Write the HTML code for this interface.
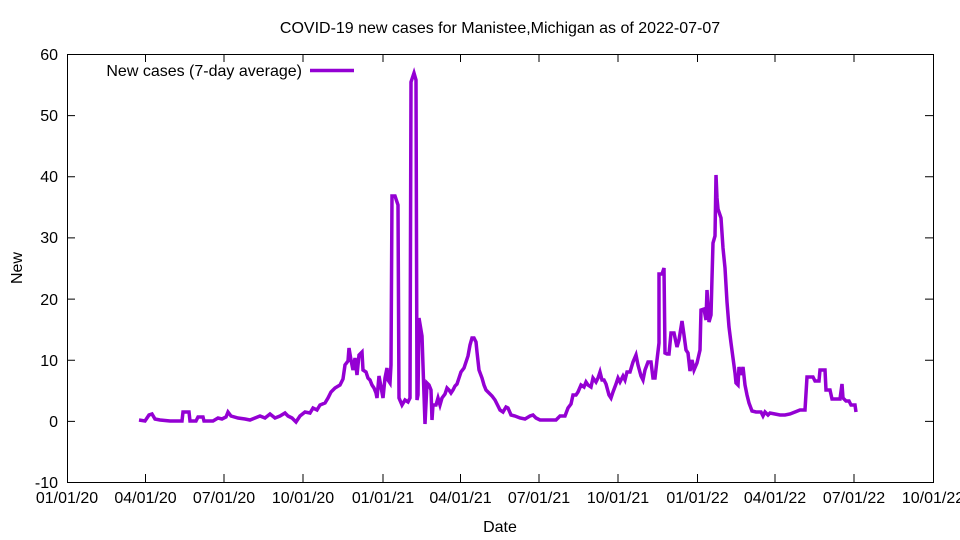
<!DOCTYPE html>
<html><head><meta charset="utf-8"><style>body{margin:0;background:#fff}svg{display:block}text{font-family:"Liberation Sans",sans-serif;font-size:16px;fill:#000}</style></head>
<body>
<svg width="960" height="540" viewBox="0 0 960 540">
<rect x="67.5" y="54.5" width="866" height="428" fill="none" stroke="#000" stroke-width="1"/>
<g stroke="#000" stroke-width="1">
<path d="M67 54.5h8M933 54.5h-8M67 115.6h8M933 115.6h-8M67 176.8h8M933 176.8h-8M67 237.9h8M933 237.9h-8M67 299.1h8M933 299.1h-8M67 360.2h8M933 360.2h-8M67 421.4h8M933 421.4h-8"/>
<path d="M145.5 482v-8M145.5 54v8M224 482v-8M224 54v8M303 482v-8M303 54v8M383 482v-8M383 54v8M460.5 482v-8M460.5 54v8M539 482v-8M539 54v8M618 482v-8M618 54v8M697.5 482v-8M697.5 54v8M775 482v-8M775 54v8M854 482v-8M854 54v8"/>
</g>
<g text-anchor="end">
<text x="58" y="60">60</text><text x="58" y="121">50</text><text x="58" y="182">40</text><text x="58" y="243">30</text><text x="58" y="305">20</text><text x="58" y="366">10</text><text x="58" y="427">0</text><text x="58" y="488">-10</text>
</g>
<g text-anchor="middle">
<text x="67" y="503">01/01/20</text><text x="145.5" y="503">04/01/20</text><text x="224" y="503">07/01/20</text><text x="303" y="503">10/01/20</text><text x="383" y="503">01/01/21</text><text x="460.5" y="503">04/01/21</text><text x="539" y="503">07/01/21</text><text x="618" y="503">10/01/21</text><text x="697.5" y="503">01/01/22</text><text x="775" y="503">04/01/22</text><text x="854" y="503">07/01/22</text><text x="933" y="503">10/01/22</text>
<text x="500" y="532">Date</text>
<text x="500" y="33">COVID-19 new cases for Manistee,Michigan as of 2022-07-07</text>
</g>
<text x="22" y="268" text-anchor="middle" transform="rotate(-90 22 268)">New</text>
<text x="302" y="76" text-anchor="end">New cases (7-day average)</text>
<path d="M310 70.5h44" stroke="#9400d3" stroke-width="3.5"/>
<polyline fill="none" stroke="#9400d3" stroke-width="3.5" stroke-linejoin="miter" points="139,420 145,421 149,415 152,414 155,419 160,420 170,421 182,421 183,412 189,412 190,421 196,421 198,417 203,417 204,421 213,421 218,418 222,419 226,417 228,412 231,416 238,418 245,419 250,420 255,418 260,416 265,418 270,414 275,418 280,416 285,413 288,416 292,418 296,422 300,416 305,412 310,413 313,408 317,410 320,405 325,403 328,398 331,392 335,388 340,385 343,379 345,365 348,361 349,348 351,360 353,370 355,358 357,375 359,355 362,352 363,370 366,372 368,378 370,380 372,385 374,388 376,393 377,398 379,376 381,387 383,398 385,378 387,368 388,380 390,383 391,365 392,196 395,196 398,205 399,398 402,405 405,400 408,402 410,398 411,82 414,73 416,80 417,400 418,395 419,318 421,330 422,336 424,395 425,424 427,383 429,385 431,390 432,420 433,405 436,405 438,398 440,405 442,398 445,394 447,388 449,390 451,393 453,390 455,386 457,384 459,378 461,372 464,368 466,362 468,356 470,345 472,338 474,338 476,342 477,352 479,370 482,378 484,385 486,390 489,393 492,396 495,400 498,406 500,410 503,412 506,407 508,408 511,415 515,416 520,418 525,419 530,416 533,415 536,418 540,420 550,420 556,420 560,416 565,416 568,408 571,404 573,395 576,395 578,392 581,385 584,387 586,382 588,385 591,387 593,378 596,382 598,378 600,372 602,380 604,380 606,384 609,395 611,398 613,392 616,384 618,378 620,382 623,376 625,380 627,372 630,372 633,362 636,355 638,365 641,376 643,380 645,370 648,362 651,362 653,378 655,378 657,360 659,343 659,274 662,274 664,268 665,353 667,354 669,354 671,333 674,333 677,347 679,340 682,321 684,335 686,350 688,353 690,371 692,360 694,370 697,363 700,350 701,310 704,309 706,320 707,290 709,322 711,315 712,278 713,243 715,236 716,175 717,198 718,209 721,218 723,248 725,268 727,302 729,327 731,343 733,358 735,373 736,383 738,385 739,367 741,375 743,367 745,385 747,395 749,403 752,411 756,412 761,412 763,416 765,412 768,415 770,413 775,414 780,415 785,415 790,414 795,412 800,410 805,410 807,377 813,377 815,381 819,381 820,370 825,370 826,390 830,390 832,399 840,399 842,384 843,398 846,401 849,401 851,405 855,405 856,412"/>
</svg>
</body></html>
